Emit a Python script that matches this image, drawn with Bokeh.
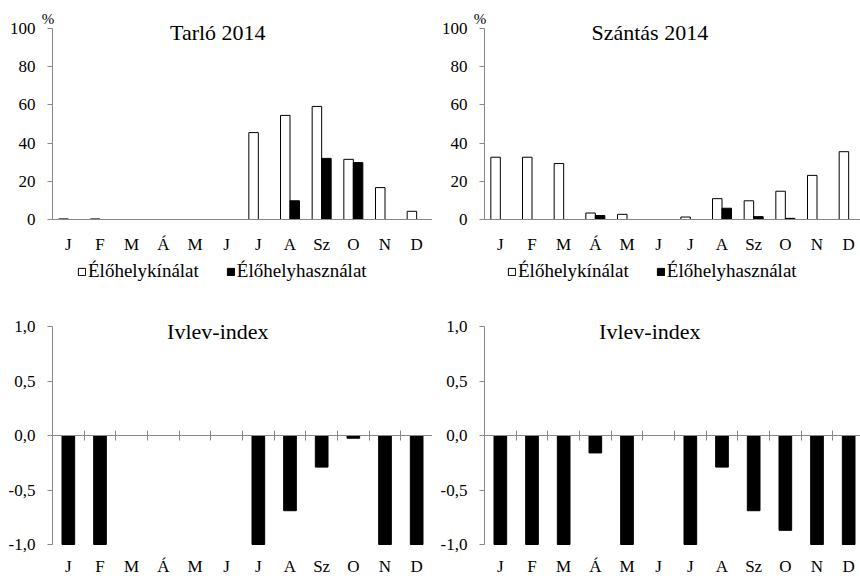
from bokeh.plotting import figure
from bokeh.layouts import column, row
from bokeh.models import (ColumnDataSource, Range1d, FixedTicker, LinearAxis,
                          Label, Legend, LegendItem)
from bokeh.transform import dodge
from bokeh.embed import file_html
from bokeh.resources import INLINE
import numpy as np

# ---------------- data ----------------
months = ["J", "F", "M", "Á", "M", "J", "J", "A", "Sz", "O", "N", "D"]
tarlo_kinalat = [0.3, 0.3, 0, 0, 0, 0, 45.5, 54.5, 59.2, 31.5, 16.7, 4.3]
tarlo_hasznalat = [0, 0, 0, 0, 0, 0, 0, 9.8, 32.0, 29.8, 0, 0]
szantas_kinalat = [32.6, 32.6, 29.3, 3.4, 2.7, 0, 1.3, 10.9, 9.8, 14.8, 23.1, 35.5]
szantas_hasznalat = [0, 0, 0, 2.1, 0, 0, 0, 5.9, 1.5, 0.6, 0, 0]
tarlo_ivlev = [-1, -1, None, None, None, None, -1, -0.69, -0.29, -0.025, -1, -1]
szantas_ivlev = [-1, -1, -1, -0.16, -1, None, -1, -0.29, -0.69, -0.87, -1, -1]
ivlev_ticks = [-1.0, -0.5, 0.0, 0.5, 1.0]
ivlev_tick_labels = ["-1,0", "-0,5", "0,0", "0,5", "1,0"]
pct_ticks = [0, 20, 40, 60, 80, 100]
titles = ["Tarló 2014", "Szántás 2014", "Ivlev-index", "Ivlev-index"]
legend_labels = ["Élőhelykínálat", "Élőhelyhasználat"]

FONT = "Liberation Serif"
AXIS_GREY = "#888888"
TICK_SIZE = "17px"
LEFT = 52                 # pixel position of the y axis inside each panel
SPACING = 380 / 12        # pixels per month
centers = [i + 0.5 for i in range(len(months))]
month_overrides = {c: m for c, m in zip(centers, months)}


def base_fig(width, height, y0, y1):
    x0 = -LEFT / SPACING
    x1 = (width - LEFT) / SPACING
    p = figure(width=width, height=height, output_backend="svg",
               toolbar_location=None, x_range=Range1d(x0, x1),
               y_range=Range1d(y0, y1), min_border_left=0, min_border_right=0,
               min_border_top=0, min_border_bottom=0)
    p.outline_line_color = None
    p.grid.visible = False
    p.xaxis.visible = False
    p.yaxis.visible = False
    return p


def y_axis(p, ticks, lo, hi, overrides=None):
    ax = LinearAxis(fixed_location=0, ticker=FixedTicker(ticks=ticks),
                    bounds=(lo, hi))
    if overrides:
        ax.major_label_overrides = overrides
    ax.axis_line_color = AXIS_GREY
    ax.major_tick_line_color = AXIS_GREY
    ax.major_tick_in = 0
    ax.major_tick_out = 5
    ax.minor_tick_line_color = None
    ax.major_label_text_font = FONT
    ax.major_label_text_font_size = TICK_SIZE
    ax.major_label_text_color = "black"
    ax.major_label_standoff = 12
    p.add_layout(ax, "left")


def month_axis(p, loc, line, standoff):
    ax = LinearAxis(fixed_location=loc, ticker=FixedTicker(ticks=centers),
                    major_label_overrides=month_overrides, bounds=(0, 12))
    ax.axis_line_color = AXIS_GREY if line else None
    ax.major_tick_line_color = None
    ax.minor_tick_line_color = None
    ax.major_label_text_font = FONT
    ax.major_label_text_font_size = TICK_SIZE
    ax.major_label_text_color = "black"
    ax.major_label_standoff = standoff
    p.add_layout(ax, "below")


def top_chart(width, kin, has, title, legend_x):
    # 0 at 219 px, 100 at 28 px in a 290 px high panel
    ppu = 191 / 100
    p = base_fig(width, 290, -(290 - 219) / ppu, 100 + 28 / ppu)
    src = ColumnDataSource(dict(x=centers, kin=kin, has=has))
    r1 = p.vbar(x=dodge("x", -0.15), top="kin", bottom=0, width=0.3, source=src,
                fill_color="white", line_color="black", line_width=1)
    r2 = p.vbar(x=dodge("x", 0.15), top="has", bottom=0, width=0.3, source=src,
                fill_color="black", line_color="black", line_width=1)
    y_axis(p, pct_ticks, 0, 100)
    month_axis(p, 0, True, 9)
    p.add_layout(Label(x=5.22, y=98.0, text=title, text_font=FONT,
                       text_font_size="22px", text_align="center",
                       text_baseline="alphabetic", text_color="black"))
    p.add_layout(Label(x=-0.14, y=105.2, text="%", text_font=FONT,
                       text_font_size="15px", text_align="center",
                       text_baseline="alphabetic", text_color="black"))
    leg = Legend(items=[LegendItem(label=legend_labels[0], renderers=[r1]),
                        LegendItem(label=legend_labels[1], renderers=[r2])],
                 orientation="horizontal", location=(legend_x, 8),
                 glyph_width=9, glyph_height=9, label_standoff=2, spacing=27,
                 padding=0, margin=0, label_height=20,
                 label_text_font=FONT, label_text_font_size="19px",
                 label_text_color="black", background_fill_alpha=0,
                 border_line_color=None)
    p.add_layout(leg, "center")
    return p


def ivlev_chart(width, vals, title):
    # 1 at 36 px, -1 at 254 px in a 286 px high panel
    ppu = 218 / 2
    p = base_fig(width, 286, -1 - 32 / ppu, 1 + 36 / ppu)
    tops = np.array([np.nan if v is None else v for v in vals], dtype=float)
    src = ColumnDataSource(dict(x=centers, top=tops))
    p.vbar(x="x", top="top", bottom=0, width=0.4, source=src,
           fill_color="black", line_color="black")
    y_axis(p, ivlev_ticks, -1, 1, dict(zip(ivlev_ticks, ivlev_tick_labels)))
    month_axis(p, -1, False, 6)
    bounds = list(range(1, 13))
    zero_ax = LinearAxis(fixed_location=0, ticker=FixedTicker(ticks=bounds),
                         major_label_overrides={b: "" for b in bounds},
                         bounds=(0, 12))
    zero_ax.axis_line_color = AXIS_GREY
    zero_ax.major_tick_line_color = AXIS_GREY
    zero_ax.major_tick_in = 5
    zero_ax.major_tick_out = 5
    zero_ax.minor_tick_line_color = None
    zero_ax.major_label_standoff = 0
    p.add_layout(zero_ax, "below")
    p.add_layout(Label(x=5.22, y=0.955, text=title, text_font=FONT,
                       text_font_size="22px", text_align="center",
                       text_baseline="alphabetic", text_color="black"))
    return p


p1 = top_chart(432, tarlo_kinalat, tarlo_hasznalat, titles[0], LEFT + 25)
p2 = top_chart(428, szantas_kinalat, szantas_hasznalat, titles[1], LEFT + 23)
p3 = ivlev_chart(432, tarlo_ivlev, titles[2])
p4 = ivlev_chart(428, szantas_ivlev, titles[3])

layout = column(row(p1, p2), row(p3, p4))
open("out.html", "w").write(file_html(layout, INLINE))
